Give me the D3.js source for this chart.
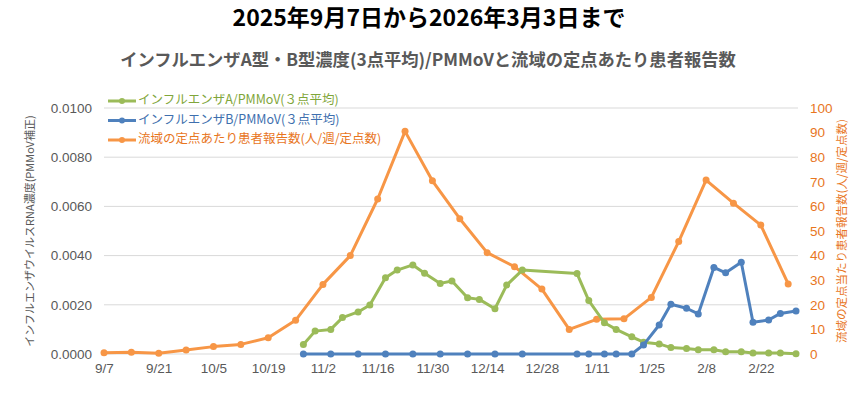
<!DOCTYPE html>
<html>
<head>
<meta charset="utf-8">
<script src="https://cdn.jsdelivr.net/npm/d3@7"></script>
<style>
  body { margin: 0; background: #fff; }
  svg { font-family: "Noto Sans CJK JP", "Noto Sans", sans-serif; }
</style>
</head>
<body>
<div id="chart"></div>
<script>
// 定点あたり患者報告数 (週ごと)
var reportDates = ["2025-09-07","2025-09-14","2025-09-21","2025-09-28","2025-10-05","2025-10-12","2025-10-19","2025-10-26",
  "2025-11-02","2025-11-09","2025-11-16","2025-11-23","2025-11-30","2025-12-07","2025-12-14","2025-12-21","2025-12-28",
  "2026-01-04","2026-01-11","2026-01-18","2026-01-25","2026-02-01","2026-02-08","2026-02-15","2026-02-22","2026-03-01"];
var reportValues = [0.5, 0.7, 0.3, 1.6, 3.0, 3.9, 6.6, 13.7, 28.3, 40.0, 63.0, 90.5, 70.4, 55.0, 41.2, 35.5, 26.4,
  10.0, 14.1, 14.3, 23.0, 45.7, 70.7, 61.3, 52.4, 28.5];

// インフルエンザA/PMMoV (3点平均)
var aDates = ["2025-10-28","2025-10-31","2025-11-04","2025-11-07","2025-11-11","2025-11-14","2025-11-18","2025-11-21",
  "2025-11-25","2025-11-28","2025-12-02","2025-12-05","2025-12-09","2025-12-12","2025-12-16","2025-12-19","2025-12-23",
  "2026-01-06","2026-01-09","2026-01-13","2026-01-16","2026-01-20","2026-01-23","2026-01-27","2026-01-30","2026-02-03",
  "2026-02-06","2026-02-10","2026-02-13","2026-02-17","2026-02-20","2026-02-24","2026-02-27","2026-03-03"];
var aValues = [0.00039, 0.00093, 0.00100, 0.00148, 0.00171, 0.00199, 0.00310, 0.00341,
  0.00362, 0.00328, 0.00287, 0.00297, 0.00229, 0.00222, 0.00184, 0.00280, 0.00341,
  0.00327, 0.00217, 0.00127, 0.00100, 0.00070, 0.00048, 0.00041, 0.00026, 0.00022,
  0.00017, 0.00017, 0.00009, 0.00009, 0.00004, 0.00004, 0.00004, 0.00001];

// インフルエンザB/PMMoV (3点平均)
var bDates = ["2025-10-28","2025-11-04","2025-11-11","2025-11-18","2025-11-25","2025-12-02","2025-12-09","2025-12-16","2025-12-23",
  "2026-01-06","2026-01-09","2026-01-13","2026-01-16","2026-01-20","2026-01-23","2026-01-27","2026-01-30","2026-02-03",
  "2026-02-06","2026-02-10","2026-02-13","2026-02-17","2026-02-20","2026-02-24","2026-02-27","2026-03-03"];
var bValues = [0, 0, 0, 0, 0, 0, 0, 0, 0,
  0, 0, 0, 0, 0, 0.00037, 0.00118, 0.00202, 0.00186,
  0.00163, 0.00352, 0.00330, 0.00373, 0.00129, 0.00138, 0.00165, 0.00175];

var leftTicks = [0, 0.002, 0.004, 0.006, 0.008, 0.010];
var rightTicks = [0, 10, 20, 30, 40, 50, 60, 70, 80, 90, 100];

var title = "2025年9月7日から2026年3月3日まで";
var subtitle = "インフルエンザA型・B型濃度(3点平均)/PMMoVと流域の定点あたり患者報告数";
var leftLabel = "インフルエンザウイルスRNA濃度(PMMoV補正)";
var rightLabel = "流域の定点当たり患者報告数(人/週/定点数)";
var legendNames = ["インフルエンザA/PMMoV(３点平均)", "インフルエンザB/PMMoV(３点平均)", "流域の定点あたり患者報告数(人/週/定点数)"];

var colA = "#9BBB59", colB = "#4F81BD", colR = "#F79646";
var legendColors = [colA, colB, colR];
var legendText = ["#7FA63A", "#3E6FAE", "#E8761E"];

var width = 858, height = 395;
var plot = { left: 104, right: 798, top: 108, bottom: 354 };

var parse = d3.utcParse("%Y-%m-%d");

var svg = d3.select("#chart").append("svg")
  .attr("width", width).attr("height", height);

var x = d3.scaleUtc()
  .domain([parse("2025-09-07"), parse("2026-03-03")])
  .range([plot.left, 796]);

var yL = d3.scaleLinear().domain([0, 0.01]).range([plot.bottom, plot.top]);
var yR = d3.scaleLinear().domain([0, 100]).range([plot.bottom, plot.top]);

// グリッド線
svg.append("g").selectAll("line")
  .data(leftTicks).enter().append("line")
  .attr("x1", plot.left).attr("x2", plot.right)
  .attr("y1", function(d) { return yL(d); })
  .attr("y2", function(d) { return yL(d); })
  .attr("stroke", "#d9d9d9").attr("stroke-width", 1);

// 左軸
var leftAxis = svg.append("g")
  .attr("transform", "translate(" + plot.left + ",0)")
  .call(d3.axisLeft(yL).tickValues(leftTicks).tickFormat(d3.format(".4f")).tickSize(0).tickPadding(12));
leftAxis.select(".domain").remove();
leftAxis.selectAll("text").attr("fill", "#595959").style("font-size", "13.5px");

// 右軸
var rightAxis = svg.append("g")
  .attr("transform", "translate(" + plot.right + ",0)")
  .call(d3.axisRight(yR).tickValues(rightTicks).tickSize(0).tickPadding(12));
rightAxis.select(".domain").remove();
rightAxis.selectAll("text").attr("fill", "#E8761E").style("font-size", "13.5px");

// x軸
var xTicks = d3.utcDay.range(parse("2025-09-07"), parse("2026-03-01"), 14);
var bottomAxis = svg.append("g")
  .attr("transform", "translate(0," + plot.bottom + ")")
  .call(d3.axisBottom(x).tickValues(xTicks).tickFormat(d3.utcFormat("%-m/%-d")).tickSize(0).tickPadding(9));
bottomAxis.select(".domain").remove();
bottomAxis.selectAll("text").attr("fill", "#595959").style("font-size", "13.5px");

// 軸タイトル
svg.append("text")
  .attr("transform", "translate(31," + ((plot.top + plot.bottom) / 2) + ") rotate(-90)")
  .attr("text-anchor", "middle").attr("dominant-baseline", "middle")
  .attr("fill", "#595959").style("font-size", "11px")
  .text(leftLabel);

svg.append("text")
  .attr("transform", "translate(843," + ((plot.top + plot.bottom) / 2) + ") rotate(-90)")
  .attr("text-anchor", "middle").attr("dominant-baseline", "middle")
  .attr("fill", "#E8761E").style("font-size", "11.5px")
  .text(rightLabel);

// タイトル
svg.append("text")
  .attr("x", width / 2).attr("y", 20)
  .attr("text-anchor", "middle").attr("dominant-baseline", "middle")
  .attr("fill", "#000").style("font-size", "23px").style("font-weight", "bold")
  .text(title);

svg.append("text")
  .attr("x", width / 2 - 1).attr("y", 61)
  .attr("text-anchor", "middle").attr("dominant-baseline", "middle")
  .attr("fill", "#595959").style("font-size", "17.3px").style("font-weight", "bold")
  .text(subtitle);

// 系列を描く
function drawSeries(dates, values, yScale, color) {
  var pts = dates.map(function(d, i) { return { date: parse(d), value: values[i] }; });
  var line = d3.line()
    .x(function(d) { return x(d.date); })
    .y(function(d) { return yScale(d.value); });
  svg.append("path")
    .datum(pts)
    .attr("fill", "none").attr("stroke", color)
    .attr("stroke-width", 3).attr("stroke-linejoin", "round")
    .attr("d", line);
  svg.append("g").selectAll("circle")
    .data(pts).enter().append("circle")
    .attr("cx", function(d) { return x(d.date); })
    .attr("cy", function(d) { return yScale(d.value); })
    .attr("r", 3.5).attr("fill", color);
}

drawSeries(reportDates, reportValues, yR, colR);
drawSeries(aDates, aValues, yL, colA);
drawSeries(bDates, bValues, yL, colB);

// 凡例
var legend = svg.append("g").selectAll("g")
  .data(legendNames).enter().append("g")
  .attr("transform", function(d, i) { return "translate(108," + (101 + i * 19.5) + ")"; });
legend.append("line")
  .attr("x1", 0).attr("x2", 28).attr("y1", 0).attr("y2", 0)
  .attr("stroke", function(d, i) { return legendColors[i]; }).attr("stroke-width", 3);
legend.append("circle")
  .attr("cx", 14).attr("cy", 0).attr("r", 3)
  .attr("fill", function(d, i) { return legendColors[i]; });
legend.append("text")
  .attr("x", 30).attr("y", 0).attr("dominant-baseline", "middle")
  .attr("fill", function(d, i) { return legendText[i]; })
  .style("font-size", "12.5px")
  .text(function(d) { return d; });
</script>
</body>
</html>
